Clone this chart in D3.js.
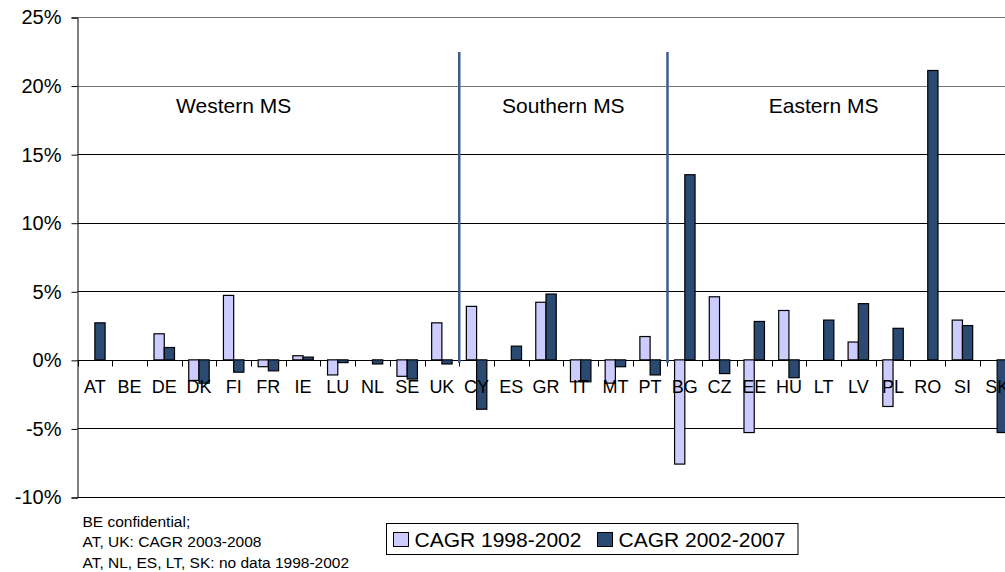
<!DOCTYPE html>
<html>
<head>
<meta charset="utf-8">
<script src="https://cdn.jsdelivr.net/npm/d3@7"></script>
<style>
  body { margin: 0; background: #fff; }
  svg { display: block; font-family: "Liberation Sans", Arial, sans-serif; }
</style>
</head>
<body>
<div id="chart"></div>
<script>
// Member states, in chart order
const categories = ["AT", "BE", "DE", "DK", "FI", "FR", "IE", "LU", "NL", "SE", "UK",
  "CY", "ES", "GR", "IT", "MT", "PT",
  "BG", "CZ", "EE", "HU", "LT", "LV", "PL", "RO", "SI", "SK"];

// CAGR in %, null = no bar
const cagr9802 = [null, null, 1.9, -1.5, 4.7, -0.5, 0.3, -1.1, null, -1.2, 2.7,
  3.9, null, 4.2, -1.6, -1.7, 1.7,
  -7.6, 4.6, -5.3, 3.6, null, 1.3, -3.4, null, 2.9, null];
const cagr0207 = [2.7, null, 0.9, -1.7, -0.9, -0.8, 0.2, -0.2, -0.3, -1.4, -0.3,
  -3.6, 1.0, 4.8, -1.6, -0.5, -1.1,
  13.5, -1.0, 2.8, -1.3, 2.9, 4.1, 2.3, 21.1, 2.5, -5.3];

const seriesNames = ["CAGR 1998-2002", "CAGR 2002-2007"];
const yTicks = [-10, -5, 0, 5, 10, 15, 20, 25];

// region groups: first category of the group and where the title sits
const groups = [
  { name: "Western MS", first: "AT", anchor: "FI" },
  { name: "Southern MS", first: "CY", anchor: "IT", edge: true },
  { name: "Eastern MS", first: "BG", anchor: "LT" }
];

const notes = ["BE confidential;", "AT, UK: CAGR 2003-2008", "AT, NL, ES, LT, SK: no data 1998-2002"];

const width = 1005, height = 572;
const colors = ["#ccccff", "#2a4a72"];

const svg = d3.select("#chart").append("svg")
  .attr("width", width)
  .attr("height", height);

const x = d3.scaleBand().domain(categories).range([77.5, 1014.5]);
const y = d3.scaleLinear().domain([-10, 25]).range([497, 17]);

// gridlines
svg.append("g")
  .selectAll("line")
  .data(yTicks)
  .join("line")
    .attr("x1", 77.5)
    .attr("x2", width)
    .attr("y1", d => Math.round(y(d)) + 0.5)
    .attr("y2", d => Math.round(y(d)) + 0.5)
    .attr("stroke", d => d >= 20 ? "#777" : "#000")
    .attr("stroke-width", 1);

// y axis
const yAxis = svg.append("g")
  .attr("transform", "translate(77.5,0.5)")
  .call(d3.axisLeft(y).tickValues(yTicks).tickSize(6).tickPadding(10).tickFormat(d => d + "%"));
yAxis.select(".domain").attr("stroke", "#000");
yAxis.selectAll("text")
  .attr("fill", "#000")
  .style("font-size", "20px")
  .style("font-family", "'Liberation Sans', Arial, sans-serif");

// zero axis with ticks at band edges
const y0 = Math.round(y(0)) + 0.5;
svg.append("line")
  .attr("x1", 77.5).attr("x2", width)
  .attr("y1", y0).attr("y2", y0)
  .attr("stroke", "#000");
svg.append("g")
  .selectAll("line")
  .data(categories)
  .join("line")
    .attr("x1", d => Math.round(x(d)) + 0.5)
    .attr("x2", d => Math.round(x(d)) + 0.5)
    .attr("y1", y0)
    .attr("y2", y0 + 6)
    .attr("stroke", "#000");

// bars
const w = x.bandwidth() * 0.295;
const series = [cagr9802, cagr0207];
series.forEach((vals, s) => {
  svg.append("g")
    .selectAll("rect")
    .data(categories.map((c, i) => ({ c, v: vals[i] })).filter(d => d.v !== null))
    .join("rect")
      .attr("x", d => x(d.c) + x.bandwidth() / 2 - w + s * w)
      .attr("y", d => y(Math.max(0, d.v)))
      .attr("width", w)
      .attr("height", d => Math.abs(y(d.v) - y(0)))
      .attr("fill", colors[s])
      .attr("stroke", "#000")
      .attr("stroke-width", 1.2);
});

// category labels, on top of the bars
svg.append("g")
  .attr("text-anchor", "middle")
  .style("font-size", "18px")
  .selectAll("text")
  .data(categories)
  .join("text")
    .attr("x", d => x(d) + x.bandwidth() / 2)
    .attr("y", y(0) + 33)
    .text(d => d);

// separators between regions
svg.append("g")
  .selectAll("line")
  .data(groups.slice(1))
  .join("line")
    .attr("x1", d => x(d.first))
    .attr("x2", d => x(d.first))
    .attr("y1", 52)
    .attr("y2", y(0) + 3)
    .attr("stroke", "#3b5e8c")
    .attr("stroke-width", 2.5);

// region titles
svg.append("g")
  .attr("text-anchor", "middle")
  .style("font-size", "21px")
  .selectAll("text")
  .data(groups)
  .join("text")
    .attr("x", d => d.edge ? x(d.anchor) : x(d.anchor) + x.bandwidth() / 2)
    .attr("y", 113)
    .text(d => d.name);

// notes
svg.append("g")
  .style("font-size", "15.5px")
  .selectAll("text")
  .data(notes)
  .join("text")
    .attr("x", 82.5)
    .attr("y", (d, i) => 527 + i * 20.3)
    .text(d => d);

// legend
const legend = svg.append("g");
legend.append("rect")
  .attr("x", 386.5).attr("y", 523.5)
  .attr("width", 411.5).attr("height", 31)
  .attr("fill", "#fff")
  .attr("stroke", "#000");
const legendX = [393.5, 597.5];
seriesNames.forEach((name, i) => {
  legend.append("rect")
    .attr("x", legendX[i]).attr("y", 532.5)
    .attr("width", 15).attr("height", 14)
    .attr("fill", colors[i])
    .attr("stroke", "#000");
  legend.append("text")
    .attr("x", legendX[i] + 21)
    .attr("y", 546.5)
    .style("font-size", "21px")
    .text(name);
});
</script>
</body>
</html>
